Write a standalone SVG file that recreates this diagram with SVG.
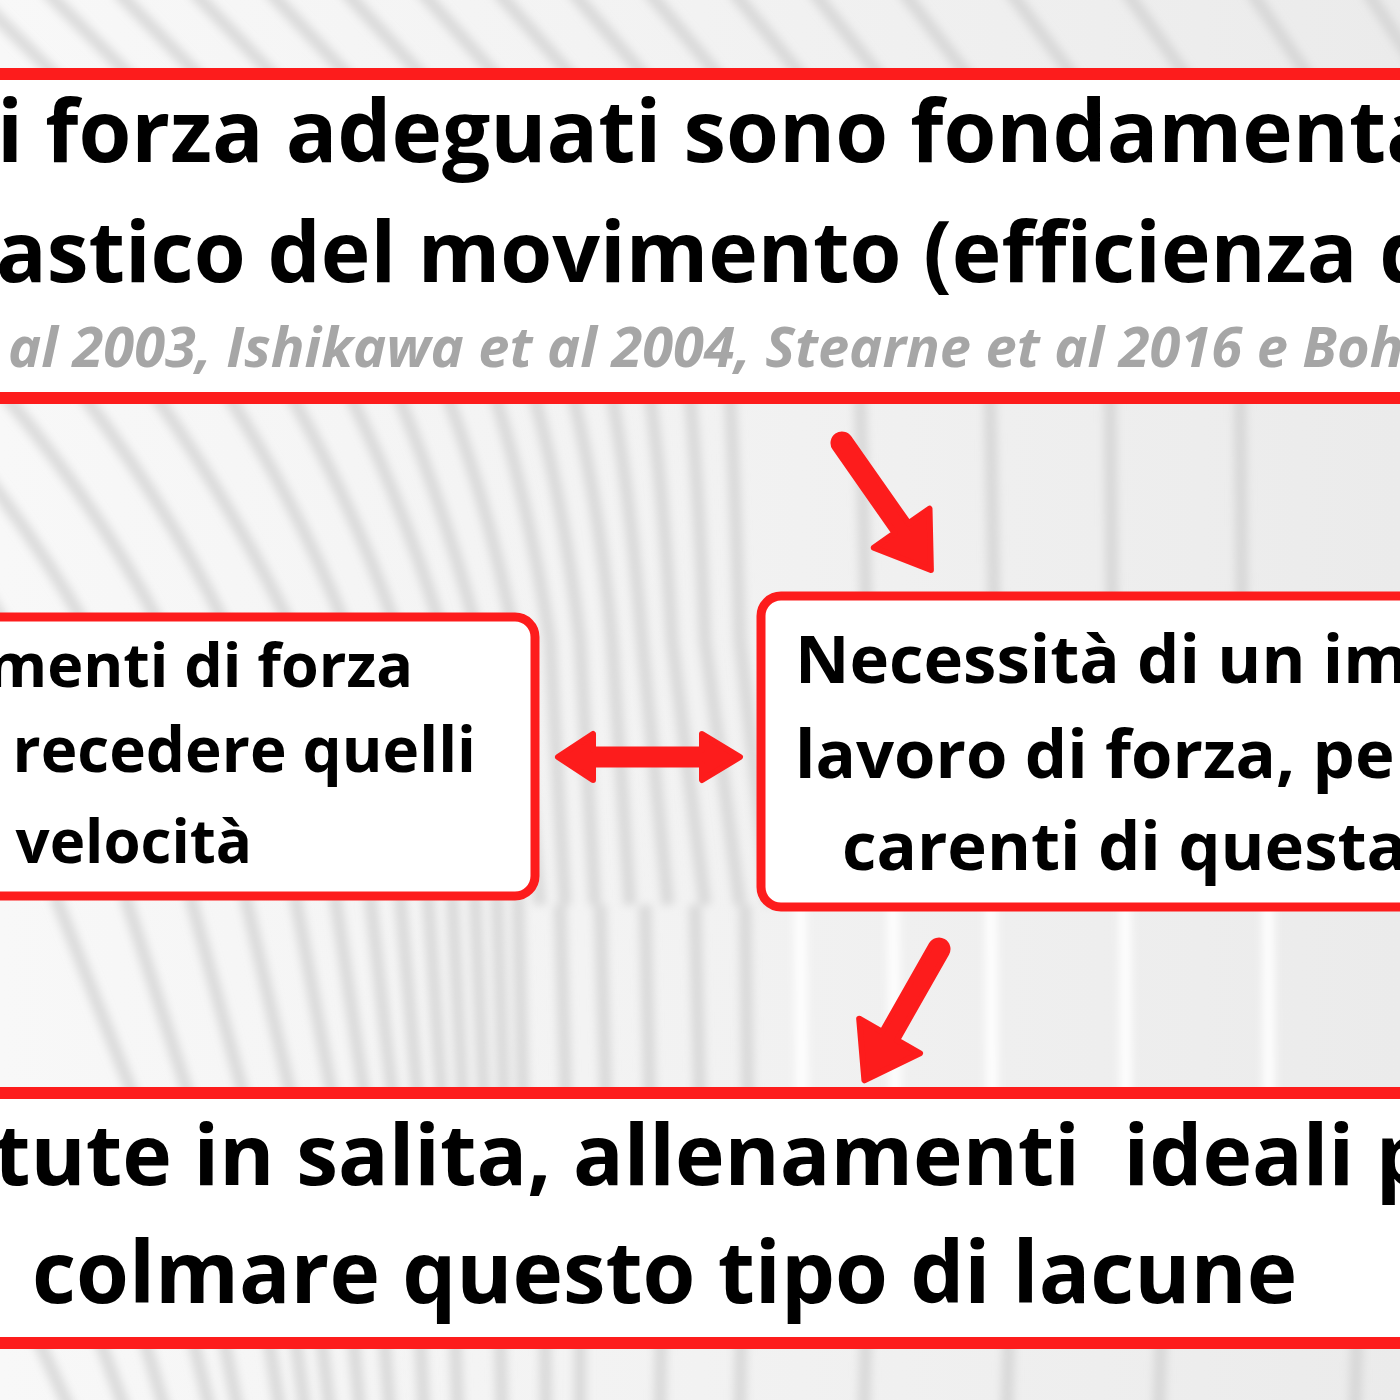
<svg xmlns="http://www.w3.org/2000/svg" width="1400" height="1400" viewBox="0 0 1400 1400">
<defs>
<linearGradient id="bg" x1="0" y1="0" x2="1" y2="0">
<stop offset="0" stop-color="#f8f8f8"/>
<stop offset="0.5" stop-color="#f2f2f2"/>
<stop offset="1" stop-color="#ebebeb"/>
</linearGradient>
<filter id="soft" x="-20%" y="-20%" width="140%" height="140%">
<feGaussianBlur stdDeviation="4"/>
</filter>
<style>
.rib{fill:none;stroke:#cdcdcd;stroke-width:13;opacity:0.65}
.hl{fill:none;stroke:#ffffff;stroke-width:12;opacity:0.95}
.box{fill:#ffffff;stroke:#fd1c1c}
.big{stroke-width:12}
.mid{stroke-width:9}
.t{font-family:"Open Sans","Liberation Sans",sans-serif;font-weight:700;fill:#000000}
.cite{font-family:"Open Sans","Liberation Sans",sans-serif;font-weight:700;font-style:italic;fill:#a6a6a6;font-size:56px}
.arrow{fill:#fd1c1c;stroke:#fd1c1c;stroke-width:6;stroke-linejoin:round}
</style>
</defs>
<rect x="0" y="0" width="1400" height="1400" fill="url(#bg)"/>
<g id="background" filter="url(#soft)">
<g class="rib">
<path d="M-30 -10 L60 80"/><path d="M45 -10 L134 80"/><path d="M116 -10 L203 80"/><path d="M192 -10 L278 80"/><path d="M268 -10 L352 80"/><path d="M344 -10 L426 80"/><path d="M420 -10 L500 80"/><path d="M496 -10 L575 80"/><path d="M571 -10 L648 80"/><path d="M647 -10 L722 80"/><path d="M732 -10 L805 80"/><path d="M812 -10 L883 80"/><path d="M902 -10 L971 80"/><path d="M1009 -10 L1076 80"/><path d="M1125 -10 L1189 80"/><path d="M1250 -10 L1311 80"/><path d="M1366 -10 L1425 80"/>
<path d="M-160 395 Q-60 510 5 625"/><path d="M-80 395 Q20 510 85 625"/><path d="M5 395 Q100 510 160 625"/><path d="M83 395 Q170 510 225 625"/><path d="M155 395 Q235 510 290 625"/><path d="M228 395 Q300 510 345 625"/><path d="M291 395 Q355 510 395 625"/><path d="M350 395 Q405 510 440 625"/><path d="M398 395 Q445 510 475 625"/>
<path d="M447 395 Q490 510 515 640 L540 905"/><path d="M495 395 Q530 510 550 640 L565 905"/><path d="M534 395 Q565 510 580 640 L595 905"/><path d="M573 395 Q600 510 612 640 L630 905"/><path d="M612 395 Q632 510 642 640 L668 905"/><path d="M650 395 Q665 510 672 640 L705 905"/><path d="M690 395 Q700 510 705 640 L740 905"/><path d="M730 395 Q736 510 740 640 L770 905"/>
<path d="M860 395 L866 600"/><path d="M990 395 L994 600"/><path d="M1110 395 L1112 600"/><path d="M1240 395 L1242 600"/>
<path d="M55 895 L135 1100"/><path d="M125 895 L190 1100"/><path d="M190 895 L245 1100"/><path d="M245 895 L292 1100"/><path d="M295 895 L333 1100"/><path d="M335 895 L365 1100"/><path d="M370 895 L393 1100"/><path d="M400 895 L418 1100"/><path d="M428 895 L442 1100"/><path d="M452 895 L463 1100"/><path d="M475 895 L484 1100"/><path d="M497 895 L504 1100"/><path d="M518 895 L523 1100"/><path d="M560 905 L566 1100"/><path d="M600 905 L606 1100"/><path d="M645 905 L650 1100"/><path d="M695 905 L700 1100"/><path d="M745 905 L748 1100"/>
<path d="M36 1335 L70 1410"/><path d="M98 1335 L125 1410"/><path d="M143 1335 L165 1410"/><path d="M192 1335 L210 1410"/><path d="M223 1335 L238 1410"/><path d="M268 1335 L280 1410"/><path d="M295 1335 L305 1410"/><path d="M321 1335 L330 1410"/><path d="M353 1335 L360 1410"/><path d="M384 1335 L390 1410"/><path d="M420 1335 L424 1410"/><path d="M455 1335 L458 1410"/><path d="M500 1335 L502 1410"/><path d="M545 1335 L546 1410"/><path d="M580 1335 L580 1410"/><path d="M661 1335 L660 1410"/><path d="M741 1335 L740 1410"/><path d="M866 1335 L864 1410"/><path d="M1009 1335 L1007 1410"/><path d="M1161 1335 L1159 1410"/><path d="M1357 1335 L1355 1410"/>
</g>
<g class="hl">
<path d="M800 900 L802 1100"/><path d="M893 900 L895 1100"/><path d="M991 900 L992 1100"/><path d="M1125 900 L1126 1100"/><path d="M1268 900 L1269 1100"/>
</g>
</g>
<g id="connectors">
<path id="arrow-top" class="arrow" transform="translate(842 443) rotate(55)" d="M0 -8.5 L104 -8.5 L104 -34 L155 0 L104 34 L104 8.5 L0 8.5 A8.5 8.5 0 0 1 0 -8.5 Z"/>
<path id="arrow-both" class="arrow" d="M558 757 L593 734 L593 749.5 L702 749.5 L702 734 L740 757 L702 780 L702 764.5 L593 764.5 L593 780 Z"/>
<path id="arrow-bottom" class="arrow" transform="translate(939 949) rotate(119.6)" d="M0 -8.5 L100 -8.5 L100 -35 L151 0 L100 35 L100 8.5 L0 8.5 A8.5 8.5 0 0 1 0 -8.5 Z"/>
</g>
<g id="node-top">
<rect class="box big" x="-20" y="74" width="1440" height="324"/>
<text class="t" font-size="85.5" x="-3" y="162">i forza adeguati sono fondamenta</text>
<text class="t" font-size="84" x="-4" y="282">astico del movimento (efficienza d</text>
<text class="cite" x="8" y="367">al 2003, Ishikawa et al 2004, Stearne et al 2016 e Boh</text>
</g>
<g id="node-left">
<rect class="box mid" x="-30" y="617" width="565" height="279" rx="20"/>
<text class="t" font-size="61" text-anchor="end" x="413" y="687">menti di forza</text>
<text class="t" font-size="62" text-anchor="end" x="476" y="772">recedere quelli</text>
<text class="t" font-size="60" text-anchor="end" x="252" y="863">velocità</text>
</g>
<g id="node-right">
<rect class="box mid" x="761" y="596" width="680" height="311" rx="20"/>
<text class="t" font-size="67" x="795" y="683">Necessità di un im</text>
<text class="t" font-size="67" x="795" y="778">lavoro di forza, pe</text>
<text class="t" font-size="67" x="842" y="870">carenti di questa</text>
</g>
<g id="node-bottom">
<rect class="box big" x="-20" y="1093" width="1440" height="250"/>
<text class="t" font-size="84" x="-6" y="1185" xml:space="preserve">tute in salita, allenamenti  ideali p</text>
<text class="t" font-size="85.5" x="32" y="1303">colmare questo tipo di lacune</text>
</g>
</svg>
